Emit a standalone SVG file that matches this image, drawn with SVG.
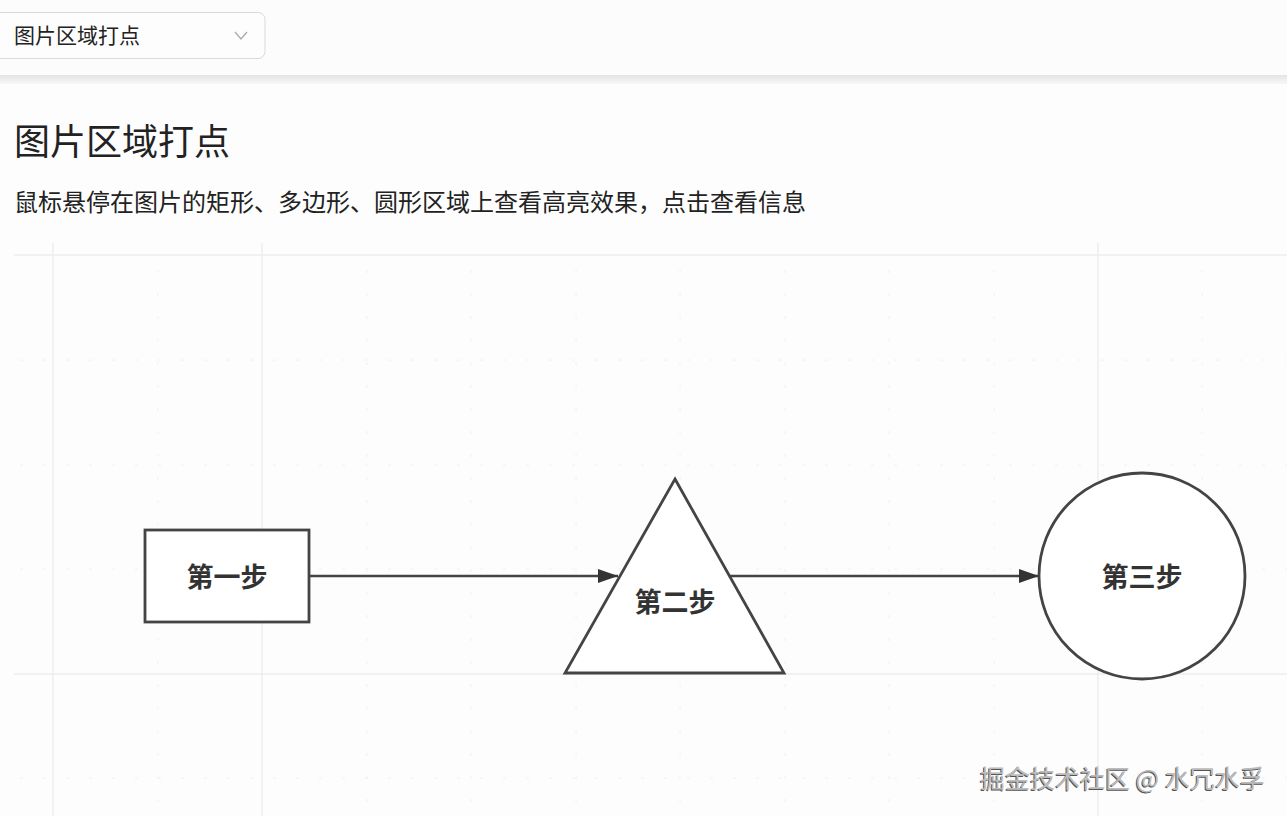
<svg xmlns="http://www.w3.org/2000/svg" width="1287" height="816" viewBox="0 0 1287 816">
<defs>
<style>
.ui{font-family:"Noto Sans CJK SC","Noto Sans",sans-serif;fill:#222}
.lbl{font-family:"Noto Sans CJK SC","Noto Sans",sans-serif;font-weight:bold;font-size:27px;fill:#333;text-anchor:middle}
.shape{fill:#fff;stroke:#444;stroke-width:2.8}
.edge{stroke:#444;stroke-width:2.6;fill:none}
.major{stroke:#ececec;stroke-width:1.3}
.minor{stroke:#f0f0f0;stroke-width:1;stroke-dasharray:3 20}
</style>
<marker id="arr" viewBox="0 0 20 14" refX="20" refY="7" markerWidth="20" markerHeight="14" markerUnits="userSpaceOnUse" orient="auto">
<path d="M0,0 L20,7 L0,14 z" fill="#333"/>
</marker>
<linearGradient id="sh" x1="0" y1="0" x2="0" y2="1">
<stop offset="0" stop-color="#e4e4e4"/>
<stop offset="1" stop-color="#f7f7f7"/>
</linearGradient>
</defs>
<rect width="1287" height="816" fill="#fdfdfd"/>
<rect width="1287" height="76" fill="#fcfcfc"/>
<rect y="75" width="1287" height="9" fill="url(#sh)"/>
<g id="dropdown">
<rect x="-6" y="12.5" width="271" height="46" rx="7" fill="#fdfdfd" stroke="#d9d9d9" stroke-width="1"/>
<text class="ui" x="14" y="43" font-size="21">图片区域打点</text>
<path d="M235,32 L241,39 L247,32" fill="none" stroke="#aaa" stroke-width="1.3"/>
</g>
<text class="ui" x="14" y="155" font-size="36">图片区域打点</text>
<text class="ui" x="14" y="211" font-size="24">鼠标悬停在图片的矩形、多边形、圆形区域上查看高亮效果，点击查看信息</text>
<g id="grid">
<line class="major" x1="14" y1="255" x2="1287" y2="255"/>
<line class="major" x1="14" y1="674" x2="1287" y2="674"/>
<line class="major" x1="53" y1="243" x2="53" y2="816"/>
<line class="major" x1="262" y1="243" x2="262" y2="816"/>
<line class="major" x1="1098" y1="243" x2="1098" y2="816"/>
<line class="minor" x1="20" y1="360" x2="1287" y2="360"/>
<line class="minor" x1="20" y1="465" x2="1287" y2="465"/>
<line class="minor" x1="20" y1="569" x2="1287" y2="569"/>
<line class="minor" x1="20" y1="778" x2="1287" y2="778"/>
<line class="minor" x1="158" y1="270" x2="158" y2="816"/>
<line class="minor" x1="367" y1="270" x2="367" y2="816"/>
<line class="minor" x1="471" y1="270" x2="471" y2="816"/>
<line class="minor" x1="576" y1="270" x2="576" y2="816"/>
<line class="minor" x1="680" y1="270" x2="680" y2="816"/>
<line class="minor" x1="785" y1="270" x2="785" y2="816"/>
<line class="minor" x1="889" y1="270" x2="889" y2="816"/>
<line class="minor" x1="994" y1="270" x2="994" y2="816"/>
<line class="minor" x1="1202" y1="270" x2="1202" y2="816"/>
</g>
<g id="connectors">
<line class="edge" x1="309" y1="576" x2="618" y2="576" marker-end="url(#arr)"/>
<line class="edge" x1="730" y1="576" x2="1039" y2="576" marker-end="url(#arr)"/>
</g>
<g id="step1">
<rect class="shape" x="145" y="530" width="164" height="92"/>
<text class="lbl" x="227" y="587">第一步</text>
</g>
<g id="step2">
<polygon class="shape" points="675,479 784,673 565,673" stroke-linejoin="miter"/>
<text class="lbl" x="675" y="612">第二步</text>
</g>
<g id="step3">
<ellipse class="shape" cx="1142" cy="576" rx="103" ry="103"/>
<text class="lbl" x="1142" y="587">第三步</text>
</g>
<g id="watermark" font-family="'Noto Sans CJK SC','Noto Sans',sans-serif" font-size="25">
<text x="979" y="789" fill="#555">掘金技术社区 @ 水冗水孚</text>
<text x="980" y="788" fill="#bbb">掘金技术社区 @ 水冗水孚</text>
</g>
</svg>
